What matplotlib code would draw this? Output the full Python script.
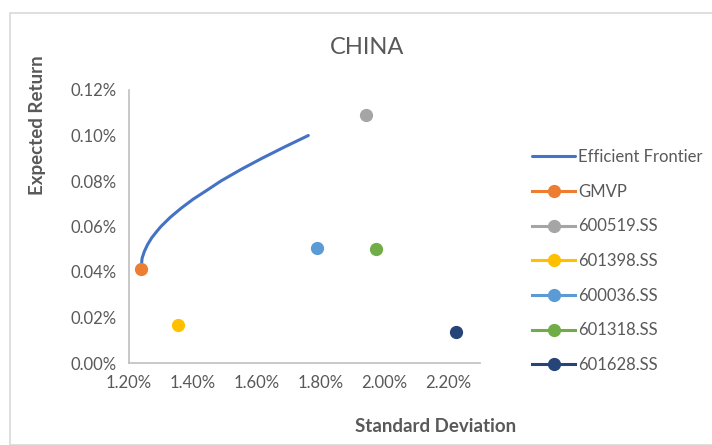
import matplotlib
matplotlib.use("Agg")
import matplotlib.pyplot as plt
from matplotlib.ticker import FuncFormatter
from matplotlib.patches import Rectangle

plt.rcParams['font.family'] = ['Lato', 'DejaVu Sans']

# Data (percent units)
frontier_sd = [1.239, 1.241, 1.248, 1.258, 1.271, 1.288, 1.300, 1.329, 1.363, 1.401,
               1.445, 1.488, 1.550, 1.617, 1.688, 1.762]
frontier_ret = [0.043, 0.046, 0.049, 0.052, 0.055, 0.058, 0.060, 0.064, 0.068, 0.072,
                0.076, 0.080, 0.085, 0.090, 0.095, 0.100]

point_names = ["GMVP", "600519.SS", "601398.SS", "600036.SS", "601318.SS", "601628.SS"]
point_sd = [1.2375, 1.944, 1.353, 1.788, 1.975, 2.225]
point_ret = [0.0413, 0.1090, 0.0167, 0.0505, 0.0500, 0.0135]
point_colors = ["#ED7D31", "#A5A5A5", "#FFC000", "#5B9BD5", "#70AD47", "#264478"]

x_ticks = [1.20, 1.40, 1.60, 1.80, 2.00, 2.20]
y_ticks = [0.00, 0.02, 0.04, 0.06, 0.08, 0.10, 0.12]

W, H = 712, 445
fig = plt.figure(figsize=(W / 100, H / 100), dpi=100)
fig.patch.set_facecolor("white")

# chart border
fig.patches.append(Rectangle((10 / W, 0), 1.2, 1 - 13 / H, transform=fig.transFigure,
                             fill=False, edgecolor="#D9D9D9", lw=1.2))

ax = fig.add_axes([129 / W, 1 - 363 / H, (480 - 129) / W, (363 - 90) / H])
text_color = "#595959"

ax.plot(frontier_sd, frontier_ret, color="#4472C4", lw=2.2, label="Efficient Frontier",
        solid_capstyle="round", solid_joinstyle="round", zorder=2)
for name, sd, r, c in zip(point_names, point_sd, point_ret, point_colors):
    ax.plot([sd], [r], marker="o", ms=8.5, color=c, lw=2.2, linestyle="-", label=name, zorder=3)

ax.set_xlim(1.20, 2.30)
ax.set_ylim(0.0, 0.12)
ax.set_xticks(x_ticks)
ax.set_yticks(y_ticks)
ax.xaxis.set_major_formatter(FuncFormatter(lambda v, p: f"{v:.2f}%"))
ax.yaxis.set_major_formatter(FuncFormatter(lambda v, p: f"{v:.2f}%"))
ax.tick_params(axis="both", length=0, labelsize=12, labelcolor=text_color)
ax.tick_params(axis="x", pad=9)
ax.tick_params(axis="y", pad=9)
for s in ["top", "right"]:
    ax.spines[s].set_visible(False)
for s in ["left", "bottom"]:
    ax.spines[s].set_color("#BFBFBF")
    ax.spines[s].set_linewidth(1.2)

fig.text(367 / W, 1 - 47 / H, "CHINA", ha="center", va="center", fontsize=17, color=text_color)
fig.text(38 / W, 1 - 125 / H, "Expected Return", ha="center", va="center", rotation=90,
         fontsize=13.5, fontweight="bold", color=text_color)
fig.text(436 / W, 1 - 426 / H, "Standard Deviation", ha="center", va="center",
         fontsize=13.5, fontweight="bold", color=text_color)

leg = ax.legend(loc="upper left", bbox_to_anchor=(532 / W, 1 - 149 / H),
                bbox_transform=fig.transFigure, frameon=False, fontsize=12,
                handlelength=2.6, handletextpad=0.15, labelspacing=1.12, borderaxespad=0,
                borderpad=0)
for t in leg.get_texts():
    t.set_color(text_color)

fig.savefig("out.png", dpi=100)
